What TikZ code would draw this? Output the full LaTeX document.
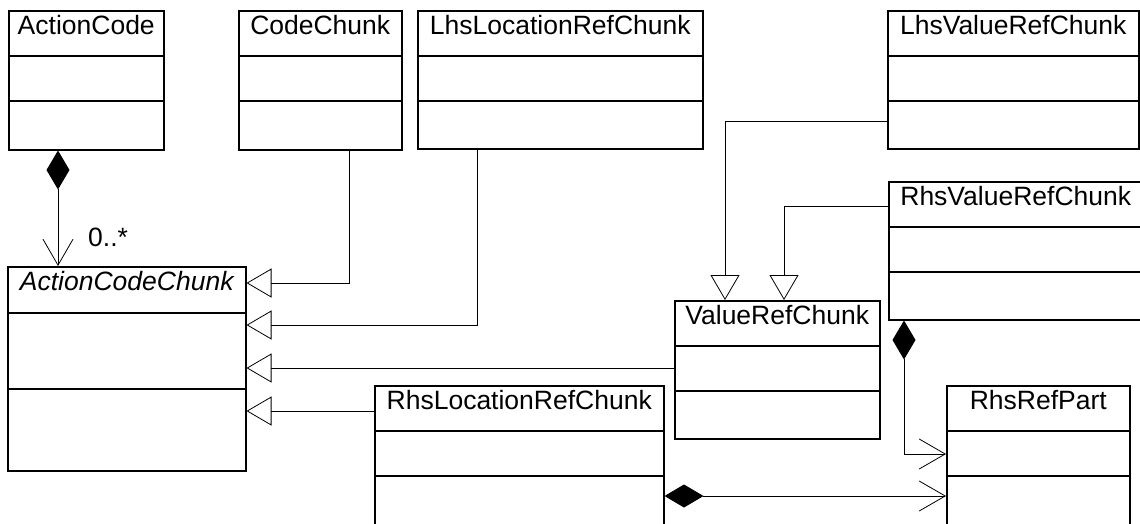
\documentclass[tikz,border=0pt]{standalone}
\usepackage{fontspec}
\setmainfont{Liberation Sans}
\usetikzlibrary{arrows.meta}

\begin{document}
\begin{tikzpicture}[
        x = 1pt, y = -1pt,
        line join=miter,
        classbox/.style = {draw, line width=1.5pt, anchor=north west, inner sep=0pt},
        classname/.style = {anchor=base, inner sep=0pt, font=\fontsize{26.5}{30}\selectfont},
        inherit/.style = {line width=1pt, -{Triangle[open, length=25pt, width=29pt, line width=0.8pt]}},
        compose/.style = {line width=1pt, {Diamond[length=39pt, width=23pt]}-{Straight Barb[length=26pt, width=30pt, line width=0.8pt]}}
    ]

    \useasboundingbox (0, 0) rectangle (1140, 523);

    \node[classbox, minimum width=155pt, minimum height=139pt] (acode) at (8, 10) {};
    \node[classbox, minimum width=163pt, minimum height=139pt] (cchunk) at (238, 10) {};
    \node[classbox, minimum width=285pt, minimum height=138pt] (llrc) at (417, 10) {};
    \node[classbox, minimum width=251pt, minimum height=138pt] (lvrc) at (887, 10) {};
    \node[classbox, minimum width=254pt, minimum height=138pt] (rvrc) at (888, 181) {};
    \node[classbox, minimum width=205pt, minimum height=138pt] (vrc) at (674, 300) {};
    \node[classbox, minimum width=238pt, minimum height=204pt] (acc) at (7, 266) {};
    \node[classbox, minimum width=289pt, minimum height=150pt] (rlrc) at (374, 385) {};
    \node[classbox, minimum width=183pt, minimum height=150pt] (rrp) at (946, 385) {};

    \foreach \b in {acode, cchunk, llrc, lvrc, rvrc, vrc, rlrc, rrp} {
        \draw[line width=1.5pt] ([yshift=-46pt]\b.north west) -- ([yshift=-46pt]\b.north east);
        \draw[line width=1.5pt] ([yshift=-91pt]\b.north west) -- ([yshift=-91pt]\b.north east);
    }
    \draw[line width=1.5pt] ([yshift=-47pt]acc.north west) -- ([yshift=-47pt]acc.north east);
    \draw[line width=1.5pt] ([yshift=-123pt]acc.north west) -- ([yshift=-123pt]acc.north east);

    \foreach \b/\t in {acode/ActionCode, cchunk/CodeChunk, llrc/LhsLocationRefChunk,
                       lvrc/LhsValueRefChunk, rvrc/RhsValueRefChunk, vrc/ValueRefChunk,
                       rlrc/RhsLocationRefChunk, rrp/RhsRefPart} {
        \node[classname] (\b-name) at ([yshift=-24pt]\b.north) {\t};
    }
    \node[classname, font=\fontsize{26.5}{30}\selectfont\itshape] (acc-name) at ([yshift=-24pt]acc.north) {ActionCodeChunk};

    % generalisations
    \draw[inherit] ([xshift=111pt]cchunk.south west) |- ([yshift=-17pt]acc.north east);
    \draw[inherit] ([xshift=60pt]llrc.south west) |- ([yshift=-59pt]acc.north east);
    \draw[inherit] ([yshift=-68pt]vrc.north west) -- ([yshift=-68pt]vrc.north west -| acc.east);
    \draw[inherit] ([yshift=-26pt]rlrc.north west) -- ([yshift=-26pt]rlrc.north west -| acc.east);
    \draw[inherit] ([yshift=-111pt]lvrc.north west) -| ([xshift=51pt]vrc.north west);
    \draw[inherit] ([yshift=-25pt]rvrc.north west) -| ([xshift=110pt]vrc.north west);

    % compositions
    \draw[compose] ([xshift=50pt]acode.south west) -- ([xshift=50pt]acode.south west |- acc.north);
    \node[classname, anchor=base west] (mult) at (88, 246) {0..*};
    \draw[compose] ([xshift=16pt]rvrc.south west) |- ([yshift=-69pt]rrp.north west);
    \draw[compose] ([yshift=-111pt]rlrc.north east) -- ([yshift=-111pt]rlrc.north east -| rrp.west);

\end{tikzpicture}
\end{document}
